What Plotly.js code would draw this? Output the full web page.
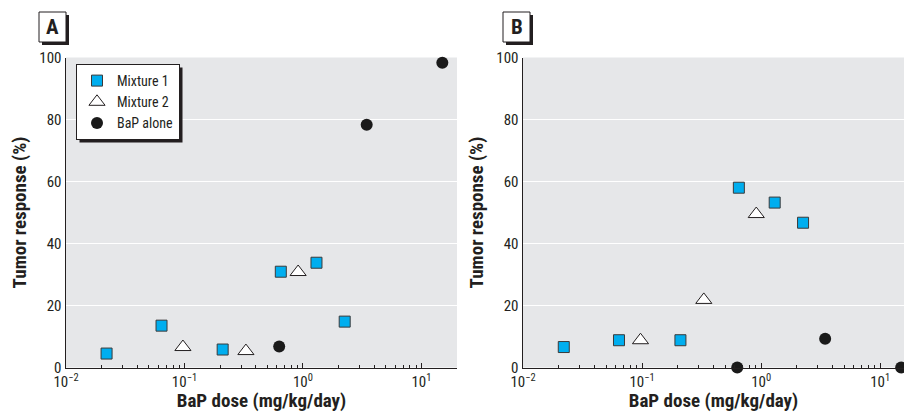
<!DOCTYPE html>
<html>
<head>
<meta charset="utf-8">
<script src="https://cdn.plot.ly/plotly-3.0.1.min.js"></script>
<style>html,body{margin:0;padding:0;background:#fff}#chart{width:904px;height:412px}</style>
</head>
<body>
<div id="chart"></div>
<script>
// Doses (mg/kg/day)
const mix1Dose = [0.022, 0.064, 0.21, 0.65, 1.3, 2.25];
const mix2Dose = [0.097, 0.33, 0.91];
const bapDose = [0.63, 3.45, 15];
// Panel A tumor response (%)
const mix1RespA = [4.5, 13.5, 5.8, 30.9, 33.8, 14.8];
const mix2RespA = [6.6, 5.3, 30.8];
const bapRespA = [6.8, 78.3, 98.3];
// Panel B tumor response (%)
const mix1RespB = [6.6, 8.8, 8.8, 58.0, 53.2, 46.7];
const mix2RespB = [8.8, 21.8, 49.5];
const bapRespB = [0, 9.3, 0];
const yTicks = [0, 20, 40, 60, 80, 100];
const xTickVals = [0.01, 0.1, 1, 10];
const xTickText = ['10<sup>\u22122</sup>', '10<sup>\u22121</sup>', '10<sup>0</sup>', '10<sup>1</sup>'];
const seriesNames = ['Mixture 1', 'Mixture 2', 'BaP alone'];

const W = 904, H = 412;
const px = v => v / W;
const py = v => 1 - v / H;
const FONT = '"Roboto Condensed", "Open Sans Condensed", "Liberation Sans", sans-serif';
const INK = '#231f20';
const f = (size, extra) => Object.assign({family: FONT, size: size, color: INK}, extra || {});

const sqMarker = {symbol: 'square', size: 11, color: '#00aeef', line: {color: '#3a3a3a', width: 1}};
const triFill = {symbol: 'triangle-up', size: 14, color: '#ffffff', line: {color: INK, width: 1}};
const dotMarker = {symbol: 'circle', size: 12, color: '#1a1a1a', line: {width: 0}};

function panel(xa, ya, r1, r2, r3, showLeg) {
  return [
    {x: mix1Dose, y: r1, type: 'scatter', mode: 'markers', name: seriesNames[0], marker: sqMarker, xaxis: xa, yaxis: ya, showlegend: showLeg, legendgroup: 'm1', cliponaxis: false},
    {x: mix2Dose, y: r2, type: 'scatter', mode: 'markers', name: seriesNames[1], marker: triFill, xaxis: xa, yaxis: ya, showlegend: showLeg, legendgroup: 'm2', cliponaxis: false},
    {x: bapDose, y: r3, type: 'scatter', mode: 'markers', name: seriesNames[2], marker: dotMarker, xaxis: xa, yaxis: ya, showlegend: showLeg, legendgroup: 'b', cliponaxis: false}
  ];
}

const data = [].concat(
  panel('x', 'y', mix1RespA, mix2RespA, bapRespA, true),
  panel('x2', 'y2', mix1RespB, mix2RespB, bapRespB, false)
);

function xAxis(dom, rng, anchor) {
  return {
    type: 'log', domain: dom, range: rng, anchor: anchor,
    tickmode: 'array', tickvals: xTickVals, ticktext: xTickText,
    showgrid: false, zeroline: false,
    showline: true, linecolor: INK, linewidth: 1.5,
    ticks: 'inside', ticklen: 5, tickwidth: 1, tickcolor: INK,
    minor: {ticks: 'inside', ticklen: 3, tickwidth: 1, tickcolor: INK, dtick: 'D1', showgrid: false},
    tickfont: f(15), ticklabelstandoff: 0,
    title: {text: 'BaP dose (mg/kg/day)', font: f(19, {weight: 'bold'}), standoff: 4},
    fixedrange: true
  };
}
function yAxis(dom, anchor) {
  return {
    domain: dom, range: [0, 100], anchor: anchor,
    tickmode: 'array', tickvals: yTicks, ticktext: yTicks.map(String),
    showgrid: true, gridcolor: '#ffffff', gridwidth: 1.5,
    zeroline: false, showline: true, linecolor: INK, linewidth: 1.5,
    ticks: '', ticklen: 0,
    tickfont: f(15),
    title: {text: 'Tumor response (%)', font: f(19, {weight: 'bold'}), standoff: 7},
    fixedrange: true
  };
}

const yDom = [py(367.5), py(57.5)];
const baseShapes = [
  // panel label boxes (shadow + box)
  {type: 'rect', xref: 'paper', yref: 'paper', x0: px(42), x1: px(69), y0: py(45), y1: py(15), fillcolor: INK, line: {width: 0}, layer: 'above'},
  {type: 'rect', xref: 'paper', yref: 'paper', x0: px(39), x1: px(66), y0: py(42), y1: py(12), fillcolor: '#ffffff', line: {color: INK, width: 1}, layer: 'above'},
  {type: 'rect', xref: 'paper', yref: 'paper', x0: px(506), x1: px(533), y0: py(45), y1: py(15), fillcolor: INK, line: {width: 0}, layer: 'above'},
  {type: 'rect', xref: 'paper', yref: 'paper', x0: px(503), x1: px(530), y0: py(42), y1: py(12), fillcolor: '#ffffff', line: {color: INK, width: 1}, layer: 'above'}
];
const layout = {
  width: W, height: H,
  margin: {l: 0, r: 0, t: 0, b: 0},
  paper_bgcolor: '#ffffff',
  plot_bgcolor: '#e6e7e9',
  showlegend: true,
  font: f(15),
  xaxis: xAxis([px(66), px(457)], [-2, 1.3], 'y'),
  yaxis: yAxis(yDom, 'x'),
  xaxis2: xAxis([px(523), px(904)], [-2, 1.2], 'y2'),
  yaxis2: yAxis(yDom, 'x2'),
  legend: {
    x: px(76), y: py(64), xanchor: 'left', yanchor: 'top',
    bgcolor: '#ffffff', bordercolor: INK, borderwidth: 1,
    font: f(14),
    itemwidth: 30, tracegroupgap: 0
  },
  shapes: baseShapes.slice(),
  annotations: [
    {text: '<b>A</b>', xref: 'paper', yref: 'paper', x: px(52.5), y: py(27), xanchor: 'center', yanchor: 'middle', showarrow: false, font: f(21)},
    {text: '<b>B</b>', xref: 'paper', yref: 'paper', x: px(516.5), y: py(27), xanchor: 'center', yanchor: 'middle', showarrow: false, font: f(21)}
  ]
};

const gd = document.getElementById('chart');
Plotly.newPlot(gd, data, layout, {staticPlot: true, displayModeBar: false}).then(function () {
  // drop shadow behind the legend box, sized to the rendered legend
  const bg = gd.querySelector('.legend rect.bg');
  if (!bg) return;
  const r = bg.getBoundingClientRect();
  const c = gd.getBoundingClientRect();
  const l = r.left - c.left, t = r.top - c.top;
  const shadow = {type: 'rect', xref: 'paper', yref: 'paper',
    x0: px(l + 3), x1: px(l + r.width + 3), y0: py(t + r.height + 3), y1: py(t + 3),
    fillcolor: INK, line: {width: 0}, layer: 'above'};
  return Plotly.relayout(gd, {shapes: baseShapes.concat([shadow])});
});
</script>
</body>
</html>
